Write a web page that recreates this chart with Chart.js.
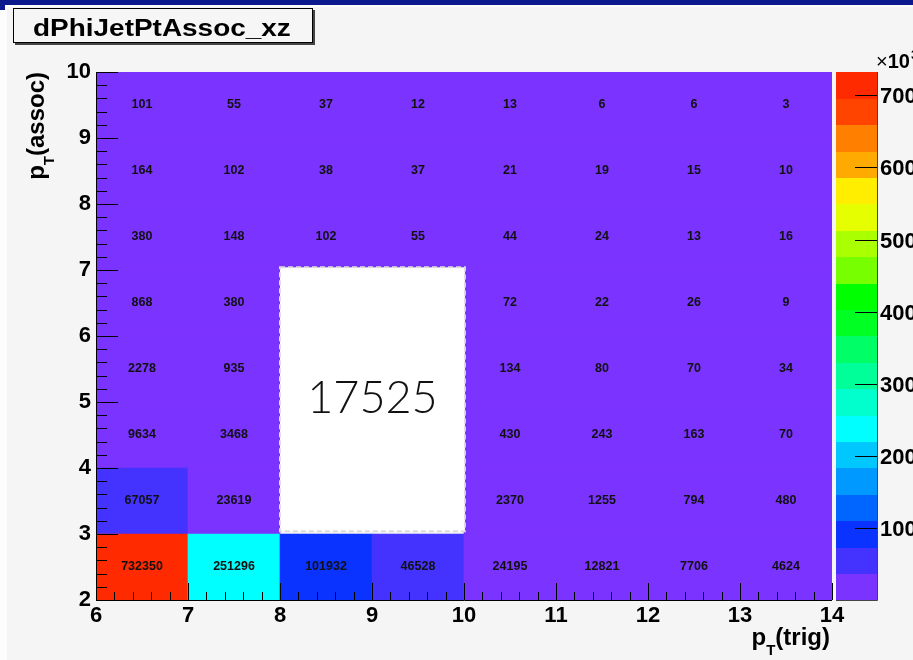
<!DOCTYPE html>
<html><head><meta charset="utf-8">
<script src="https://cdn.jsdelivr.net/npm/chart.js@4.4.1/dist/chart.umd.min.js"></script>
<style>html,body{margin:0;padding:0;background:#f5f5f5;overflow:hidden}#wrap{width:913px;height:660px;position:relative}</style>
</head><body><div id="wrap"><canvas id="c" width="913" height="660"></canvas></div>
<script>
// ---- data ----
const xEdges = [6, 7, 8, 9, 10, 11, 12, 13, 14];      // pT(trig) bin edges
const yEdges = [2, 3, 4, 5, 6, 7, 8, 9, 10];          // pT(assoc) bin edges
// counts per pT(assoc) row, bottom row first; null = hidden under the white box
const row2 = [732350, 251296, 101932, 46528, 24195, 12821, 7706, 4624];
const row3 = [67057, 23619, null, null, 2370, 1255, 794, 480];
const row4 = [9634, 3468, null, null, 430, 243, 163, 70];
const row5 = [2278, 935, null, null, 134, 80, 70, 34];
const row6 = [868, 380, null, null, 72, 22, 26, 9];
const row7 = [380, 148, 102, 55, 44, 24, 13, 16];
const row8 = [164, 102, 38, 37, 21, 19, 15, 10];
const row9 = [101, 55, 37, 12, 13, 6, 6, 3];
const xTicks = [6, 7, 8, 9, 10, 11, 12, 13, 14];
const yTicks = [2, 3, 4, 5, 6, 7, 8, 9, 10];
const zTickLabels = [100, 200, 300, 400, 500, 600, 700];   // x10^3
const boxLabel = '17525';
const titleText = 'dPhiJetPtAssoc_xz';

const rows = [row2, row3, row4, row5, row6, row7, row8, row9];
const zMax = Math.max(...rows.flat().filter(v => v != null));
const zTickValues = zTickLabels.map(v => v * 1000);
const palette = ['#7b33ff','#4433ff','#0a33ff','#0066ff','#0099ff','#00c8ff','#00ffff','#00ffcc',
  '#00ff99','#00ff66','#00ff22','#00ff00','#77ff00','#aaff00','#e5ff00','#ffee00',
  '#ffaa00','#ff8000','#ff4400','#ff2a00'];
const NC = palette.length;
function colorFor(v) {
  if (v == null) return 'rgba(0,0,0,0)';
  let b = Math.floor(v / zMax * NC);
  if (b >= NC) b = NC - 1; if (b < 0) b = 0;
  return palette[b];
}

const datasets = rows.map((vals, r) => ({
  label: 'row' + r,
  data: vals.map((v, i) => v == null ? null : ({ x: (xEdges[i] + xEdges[i + 1]) / 2, y: [yEdges[r], yEdges[r + 1]], v })).filter(d => d),
  backgroundColor: ctx => colorFor(ctx.raw ? ctx.raw.v : null),
  borderWidth: 0,
  grouped: false,
  barPercentage: 1,
  categoryPercentage: 1
}));

const FONT = '"Liberation Sans", Arial, sans-serif';

const deco = {
  id: 'deco',
  beforeDraw(chart) {
    const c = chart.ctx;
    c.save();
    c.fillStyle = '#f5f5f5'; c.fillRect(0, 0, 913, 660);
    c.fillStyle = '#fdfdfd'; c.fillRect(0, 6, 7, 654); c.fillRect(0, 5, 913, 2);
    c.fillStyle = '#0a1a8c'; c.fillRect(0, 0, 913, 5); c.fillRect(0, 5, 5, 5);
    // title box
    c.fillStyle = '#444'; c.fillRect(15, 10, 300, 35);
    c.fillStyle = '#f6f6f6'; c.fillRect(13, 8, 300, 35);
    c.strokeStyle = '#000'; c.lineWidth = 1; c.strokeRect(13.5, 8.5, 299, 34);
    c.fillStyle = '#000'; c.font = 'bold 23px ' + FONT; c.textBaseline = 'alphabetic'; c.textAlign = 'left';
    c.translate(33, 36); c.scale(1.215, 1); c.fillText(titleText, 0, 0);
    c.restore();

    // colour bar
    const a = chart.chartArea;
    c.save();
    const x0 = 836, x1 = 877;
    const zpix = v => a.bottom - v / zMax * (a.bottom - a.top);
    for (let i = 0; i < NC; i++) {
      const yb = zpix(i * zMax / NC), yt = zpix((i + 1) * zMax / NC);
      c.fillStyle = palette[i];
      c.fillRect(x0, Math.floor(yt), x1 - x0, Math.ceil(yb) - Math.floor(yt));
    }
    c.strokeStyle = '#444'; c.lineWidth = 1;
    c.beginPath(); c.moveTo(x1 + 0.5, a.top); c.lineTo(x1 + 0.5, a.bottom + 0.5); c.lineTo(x0, a.bottom + 0.5); c.stroke();
    c.strokeStyle = '#000';
    c.fillStyle = '#000'; c.font = 'bold 22px ' + FONT; c.textBaseline = 'middle'; c.textAlign = 'left';
    zTickValues.forEach((v, i) => {
      const y = Math.round(zpix(v)) + 0.5;
      c.beginPath(); c.moveTo(855, y); c.lineTo(x1, y); c.stroke();
      c.fillText(String(zTickLabels[i]), 880, y + 1);
    });
    c.textBaseline = 'alphabetic';
    c.font = '20px ' + FONT; c.fillText('\u00d7', 876, 68);
    const wx = c.measureText('\u00d7').width;
    c.font = 'bold 20px ' + FONT; c.fillText('10', 876 + wx, 68);
    const w10 = c.measureText('10').width;
    c.font = 'bold 13px ' + FONT; c.fillText('3', 876 + wx + w10 + 1, 59);
    c.restore();
  },
  afterDatasetsDraw(chart) {
    const c = chart.ctx, xs = chart.scales.x, ys = chart.scales.y, a = chart.chartArea;
    c.save();
    // cell labels
    c.fillStyle = '#111'; c.font = 'bold 12.5px ' + FONT; c.textAlign = 'center'; c.textBaseline = 'middle';
    rows.forEach((vals, r) => vals.forEach((v, i) => {
      if (v == null) return;
      const px = xs.getPixelForValue((xEdges[i] + xEdges[i + 1]) / 2);
      const py = ys.getPixelForValue((yEdges[r] + yEdges[r + 1]) / 2);
      c.fillText(String(v), px, py);
    }));
    // white annotation box
    const bx0 = xs.getPixelForValue(8), bx1 = xs.getPixelForValue(10.01);
    const by0 = ys.getPixelForValue(7.04), by1 = ys.getPixelForValue(3.04);
    c.fillStyle = '#ffffff'; c.fillRect(bx0, by0, bx1 - bx0, by1 - by0);
    c.setLineDash([5, 3]); c.strokeStyle = '#dcdcdc'; c.lineWidth = 2;
    c.strokeRect(bx0, by0, bx1 - bx0, by1 - by0);
    c.setLineDash([]);
    c.fillStyle = '#111'; c.font = '300 45px Lato, "Open Sans", sans-serif'; c.textAlign = 'center'; c.textBaseline = 'middle';
    c.fillText(boxLabel, (bx0 + bx1) / 2, (by0 + by1) / 2 - 1);
    // axes lines
    c.strokeStyle = '#000'; c.lineWidth = 1;
    c.beginPath(); c.moveTo(a.left + 0.5, a.top); c.lineTo(a.left + 0.5, a.bottom + 0.5); c.lineTo(a.right, a.bottom + 0.5); c.stroke();
    // ticks (major + minor, inward)
    for (let k = 0; k <= (xTicks[xTicks.length - 1] - xTicks[0]) * 5; k++) {
      const v = xTicks[0] + k / 5;
      const px = Math.round(xs.getPixelForValue(v)) + 0.5;
      const len = k % 5 === 0 ? 17 : 8;
      c.beginPath(); c.moveTo(px, a.bottom); c.lineTo(px, a.bottom - len); c.stroke();
    }
    for (let k = 0; k <= (yTicks[yTicks.length - 1] - yTicks[0]) * 5; k++) {
      const v = yTicks[0] + k / 5;
      const py = Math.round(ys.getPixelForValue(v)) + 0.5;
      const len = k % 5 === 0 ? 22 : 11;
      c.beginPath(); c.moveTo(a.left, py); c.lineTo(a.left + len, py); c.stroke();
    }
    // axis titles
    c.fillStyle = '#000'; c.textAlign = 'left'; c.textBaseline = 'alphabetic';
    const big = 'bold 24px ' + FONT, sub = 'bold 15px ' + FONT;
    function measure(parts) { let w = 0; parts.forEach(p => { c.font = p[1]; w += c.measureText(p[0]).width; }); return w; }
    function drawParts(parts) { let x = 0; parts.forEach(p => { c.font = p[1]; c.fillText(p[0], x, p[2]); x += c.measureText(p[0]).width; }); }
    const xt = [['p', big, 0], ['T', sub, 10], ['(trig)', big, 0]];
    c.save(); c.translate(830 - measure(xt), 645); drawParts(xt); c.restore();
    const yt = [['p', big, 0], ['T', sub, 10], ['(assoc)', big, 0]];
    c.save(); c.translate(43.5, 72 + measure(yt)); c.rotate(-Math.PI / 2); drawParts(yt); c.restore();
    c.restore();
  }
};

new Chart(document.getElementById('c'), {
  type: 'bar',
  data: { datasets },
  options: {
    responsive: false,
    animation: false,
    layout: { padding: { left: 0, top: 72, right: 81, bottom: 0 } },
    plugins: { legend: { display: false }, tooltip: { enabled: false }, title: { display: false } },
    scales: {
      x: {
        type: 'linear', min: 6, max: 14, offset: false,
        grid: { display: false, drawTicks: false }, border: { display: false },
        ticks: { stepSize: 1, autoSkip: false, maxRotation: 0, padding: 3, color: '#000',
          font: { family: FONT, size: 22, weight: 'bold' },
          callback: v => xTicks.includes(v) ? String(v) : '' },
        afterFit(s) { s.height = 60; }
      },
      y: {
        type: 'linear', min: 2, max: 10,
        grid: { display: false, drawTicks: false }, border: { display: false },
        ticks: { stepSize: 1, autoSkip: false, padding: 5, color: '#000',
          font: { family: FONT, size: 22, weight: 'bold' },
          callback: v => yTicks.includes(v) ? String(v) : '' },
        afterFit(s) { s.width = 96; }
      }
    }
  },
  plugins: [deco]
});
</script></body></html>
